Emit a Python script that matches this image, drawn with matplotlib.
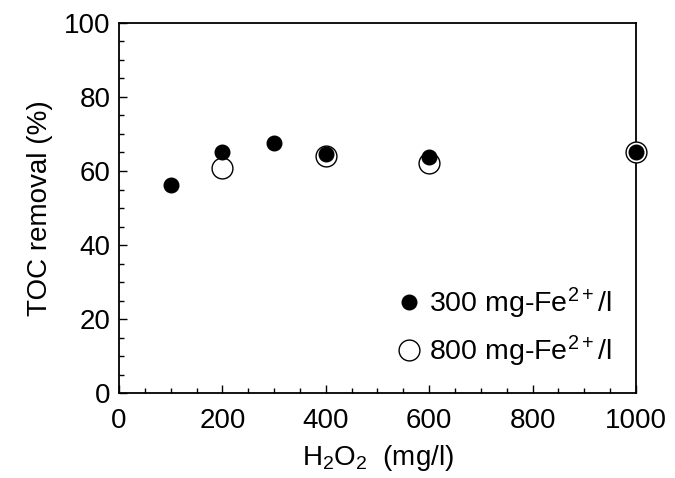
import matplotlib
matplotlib.use("Agg")
import matplotlib.pyplot as plt
from matplotlib.ticker import MultipleLocator

plt.rcParams['font.family'] = ['Liberation Sans', 'DejaVu Sans']
plt.rcParams['mathtext.fontset'] = 'custom'
plt.rcParams['mathtext.rm'] = 'Liberation Sans'
plt.rcParams['mathtext.it'] = 'Liberation Sans'

h2o2_300 = [100, 200, 300, 400, 600, 1000]
toc_300 = [56.1, 65.0, 67.7, 64.6, 63.7, 65.0]
h2o2_800 = [200, 400, 600, 1000]
toc_800 = [60.9, 64.1, 62.2, 65.0]
labels = [r"300 mg-Fe$\mathregular{^{2+}}$/l", r"800 mg-Fe$\mathregular{^{2+}}$/l"]

fig = plt.figure(figsize=(6.75, 4.78), dpi=100)
ax = fig.add_axes([0.1763, 0.1778, 0.7659, 0.7741])

ax.plot(h2o2_800, toc_800, 'o', ms=15, mfc='white', mec='black', mew=1.0,
        clip_on=False, zorder=3, label=labels[1])
ax.plot(h2o2_300, toc_300, 'o', ms=10.5, mfc='black', mec='black',
        clip_on=False, zorder=4, label=labels[0])

ax.set_xlim(0, 1000)
ax.set_ylim(0, 100)
ax.xaxis.set_major_locator(MultipleLocator(200))
ax.xaxis.set_minor_locator(MultipleLocator(50))
ax.yaxis.set_major_locator(MultipleLocator(20))
ax.yaxis.set_minor_locator(MultipleLocator(5))
ax.tick_params(which='both', direction='in', top=False, right=False, width=1.0)
ax.tick_params(which='major', length=6, labelsize=20)
ax.tick_params(axis='x', which='major', pad=11)
ax.tick_params(axis='y', which='major', pad=6)
ax.tick_params(which='minor', length=3.5)
for s in ax.spines.values():
    s.set_linewidth(1.3)

ax.set_xlabel(r"H$\mathregular{_2}$O$\mathregular{_2}$  (mg/l)", fontsize=20, labelpad=6)
ax.set_ylabel("TOC removal (%)", fontsize=20, labelpad=8)

h, l = ax.get_legend_handles_labels()
ax.legend([h[1], h[0]], [l[1], l[0]], loc='lower right', bbox_to_anchor=(0.975, 0.035),
          frameon=False, fontsize=20.5, handlelength=0.8, handletextpad=0.3,
          labelspacing=0.45, borderaxespad=0)

fig.savefig("out.png", dpi=100)
